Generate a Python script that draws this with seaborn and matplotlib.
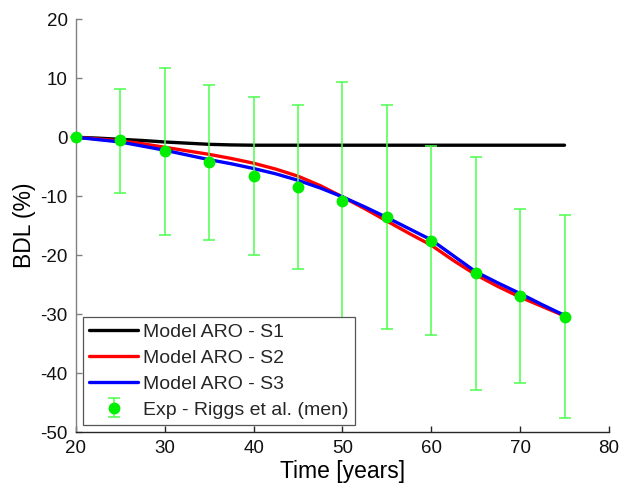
import numpy as np
import pandas as pd
import matplotlib
matplotlib.use("Agg")
import matplotlib.pyplot as plt
import seaborn as sns
from matplotlib.lines import Line2D

# ---- data ----
model_time = [20, 22.5, 25, 27.5, 30, 32.5, 35, 37.5, 40, 42.5, 45, 47.5, 50,
              52.5, 55, 57.5, 60, 62.5, 65, 67.5, 70, 72.5, 75]
s1 = [0, -0.15, -0.35, -0.55, -0.8, -1.0, -1.2, -1.3, -1.35, -1.35, -1.35, -1.35, -1.35,
      -1.35, -1.35, -1.35, -1.35, -1.35, -1.35, -1.35, -1.35, -1.35, -1.35]
s2 = [0, -0.3, -0.6, -1.1, -1.7, -2.3, -2.9, -3.6, -4.4, -5.4, -6.6, -8.2, -10.1,
      -12.1, -14.2, -16.3, -18.3, -20.9, -23.3, -25.3, -27.1, -28.7, -30.3]
s3 = [0, -0.4, -0.8, -1.5, -2.2, -3.0, -3.8, -4.5, -5.3, -6.2, -7.3, -8.6, -10.1,
      -11.8, -13.6, -15.5, -17.4, -20.1, -22.8, -24.7, -26.5, -28.4, -30.2]

exp_time = [20, 25, 30, 35, 40, 45, 50, 55, 60, 65, 70, 75]
exp_mean = [0, -0.5, -2.4, -4.2, -6.6, -8.4, -10.8, -13.6, -17.6, -23.0, -26.9, -30.4]
exp_upper = [0, 8.25, 11.8, 8.9, 6.8, 5.4, 9.4, 5.4, -1.5, -3.3, -12.1, -13.2]
exp_lower = [0, -9.4, -16.6, -17.4, -20.0, -22.3, -31.0, -32.5, -33.6, -42.9, -41.7, -47.6]

labels = ["Model ARO - S1", "Model ARO - S2", "Model ARO - S3"]
exp_label = "Exp - Riggs et al. (men)"
colors = ["#000000", "#ff0000", "#0000ff"]

# ---- plot ----
sns.set_theme(style="white")
plt.rcParams["font.family"] = ["Liberation Sans", "DejaVu Sans"]
plt.rcParams["axes.unicode_minus"] = False

fig = plt.figure(figsize=(6.22, 4.95), dpi=100)
ax = fig.add_axes([0.122, 0.127, 0.857, 0.834])

df = pd.DataFrame({"t": model_time * 3,
                   "v": s1 + s2 + s3,
                   "m": [labels[0]] * len(s1) + [labels[1]] * len(s2) + [labels[2]] * len(s3)})
sns.lineplot(data=df, x="t", y="v", hue="m", palette=dict(zip(labels, colors)),
             linewidth=2.4, ax=ax, legend=False)

em = np.array(exp_mean)
yerr = np.vstack([em - np.array(exp_lower), np.array(exp_upper) - em])
eb = ax.errorbar(exp_time, exp_mean, yerr=yerr, fmt="o", color="#00ee00",
                 ecolor="#4dff4d", elinewidth=1.1, capsize=4, capthick=1.1,
                 markersize=7.5, markerfacecolor="#00ee00", markeredgecolor="#00ee00",
                 zorder=5, clip_on=False)

handles = [Line2D([], [], color=c, lw=2.4) for c in colors] + [eb]
leg = ax.legend(handles, labels + [exp_label], loc="lower left",
                fontsize=14, frameon=True, fancybox=False, framealpha=1,
                edgecolor="#555555", borderaxespad=0.35, handlelength=2.5,
                handletextpad=0.25, labelspacing=0.42, borderpad=0.35)
leg.get_frame().set_linewidth(0.9)

ax.set_xlim(20, 80)
ax.set_ylim(-50, 20)
ax.set_xticks([20, 30, 40, 50, 60, 70, 80])
ax.set_yticks([-50, -40, -30, -20, -10, 0, 10, 20])
ax.set_xlabel("Time [years]", fontsize=16.5, color="#000000", labelpad=2)
ax.set_ylabel("BDL (%)", fontsize=16.5, color="#000000", labelpad=3)

for s in ["top", "right"]:
    ax.spines[s].set_visible(False)
ax.spines["left"].set_color("#808080")
ax.spines["bottom"].set_color("#262626")
ax.spines["left"].set_linewidth(1.0)
ax.spines["bottom"].set_linewidth(1.0)
ax.tick_params(axis="both", direction="in", length=4, width=1.0, labelsize=13.5,
               labelcolor="#111111", pad=6, left=True, bottom=True)
ax.tick_params(axis="y", color="#808080")
ax.tick_params(axis="x", color="#262626")
ax.grid(False)

fig.savefig("out.png", dpi=100)
